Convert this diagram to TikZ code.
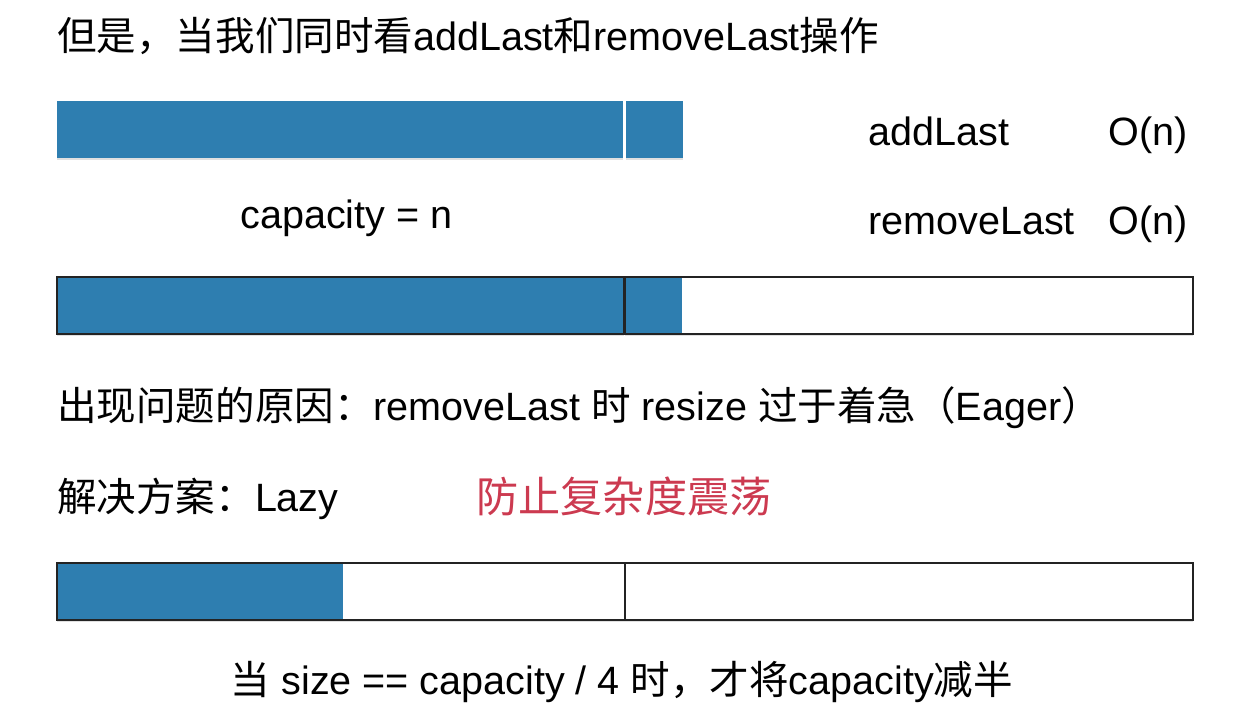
\documentclass[tikz,border=0pt]{standalone}
\usepackage{fontspec}
\setmainfont{Liberation Sans}
\newfontfamily\cjk{Noto Sans CJK SC}
\usetikzlibrary{shadows}
\definecolor{cellblue}{RGB}{46,126,176}
\definecolor{frameink}{RGB}{35,35,35}
\definecolor{alertred}{RGB}{204,58,80}
\tikzset{
  every picture/.style={x=0.02cm, y=-0.02cm},
  txt/.style={anchor=base west, inner sep=0pt, font=\fontsize{22.5pt}{27pt}\selectfont},
  note/.style={txt, text=alertred, font=\fontsize{24pt}{28pt}\selectfont},
  soft shadow/.style={drop shadow={shadow xshift=0pt, shadow yshift=-1pt, opacity=0.2, fill=black!60}},
  cell/.style={anchor=north west, inner sep=0pt, outer sep=0pt, fill=cellblue, minimum height=1.10cm},
  slot/.style={anchor=north west, inner sep=0pt, outer sep=0pt, draw=frameink, line width=1.1pt, fill=white, minimum height=1.14cm, soft shadow},
}

\begin{document}
\begin{tikzpicture}
  \useasboundingbox (0,0) rectangle (1248,717);
  % title
  \node[txt] (title) at (57,50) {{\cjk 但是，当我们同时看}addLast{\cjk 和}removeLast{\cjk 操作}};

  % full array, one more element
  \node[cell, soft shadow, minimum width=11.32cm, minimum height=1.14cm] (full) at (57,101) {};
  \node[cell, soft shadow, minimum width=1.14cm, minimum height=1.14cm] (extra) at (626,101) {};
  \node[txt] (cap) at (240,228) {capacity = n};
  \node[txt] (add) at (868,145) {addLast};
  \node[txt] (addO) at (1108,145) {O(n)};
  \node[txt] (rem) at (868,234) {removeLast};
  \node[txt] (remO) at (1108,234) {O(n)};

  % after resize to 2n
  \node[slot, minimum width=11.34cm] (oldpart) at (57,277) {};
  \node[slot, minimum width=11.36cm] (newpart) at (625,277) {};
  \node[cell, minimum width=11.30cm] (oldfill) at (58,278) {};
  \node[cell, minimum width=1.12cm] (newfill) at (626,278) {};

  \node[txt] (cause) at (57,420) {{\cjk 出现问题的原因：}removeLast {\cjk 时} resize {\cjk 过于着急（}Eager{\cjk ）}};
  \node[txt] (fix) at (57,511) {{\cjk 解决方案：}Lazy};
  \node[note] (warn) at (476,512) {\cjk 防止复杂度震荡};

  % lazy shrink
  \node[slot, minimum width=11.36cm] (lefthalf) at (57,563) {};
  \node[slot, minimum width=11.36cm] (righthalf) at (625,563) {};
  \node[cell, minimum width=5.70cm] (quarter) at (58,564) {};
  \node[txt, anchor=base] (rule) at (622,694) {{\cjk 当} size == capacity / 4 {\cjk 时，才将}capacity{\cjk 减半}};
\end{tikzpicture}
\end{document}
